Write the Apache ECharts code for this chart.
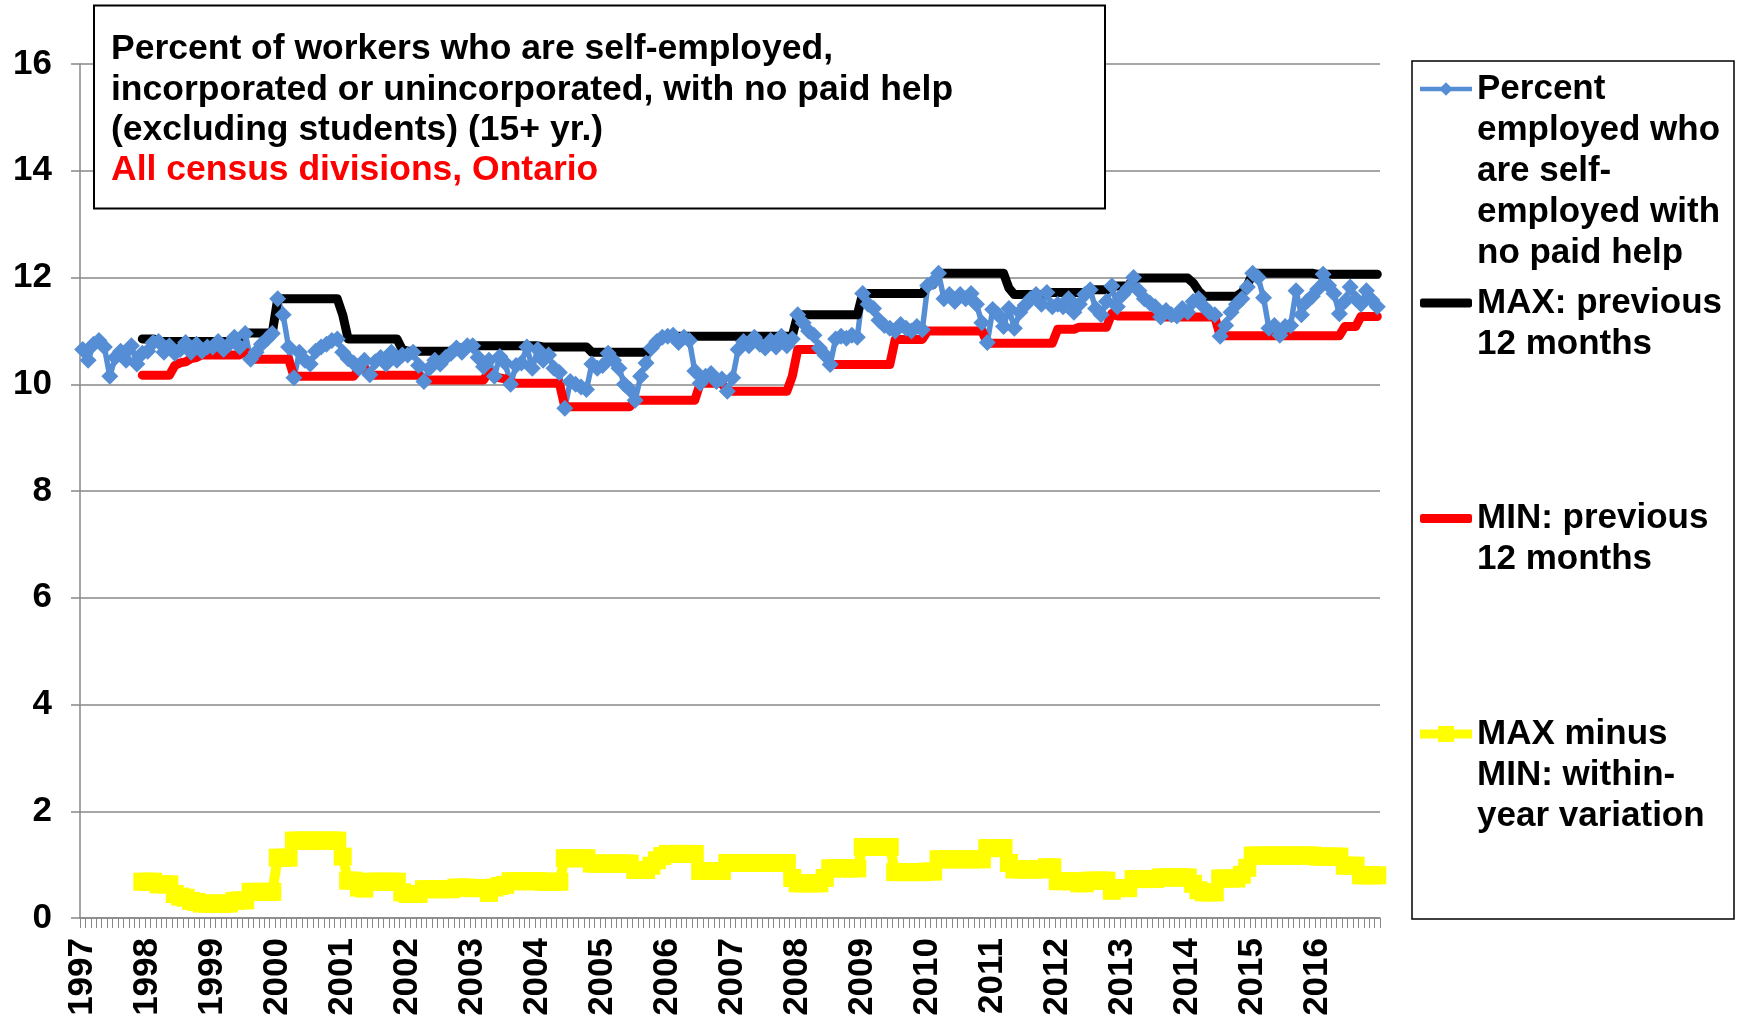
<!DOCTYPE html>
<html>
<head>
<meta charset="utf-8">
<script src="https://cdn.jsdelivr.net/npm/echarts@6/dist/echarts.min.js"></script>
<style>
  html, body { margin: 0; padding: 0; background: #fff; }
  #main { width: 1741px; height: 1021px; }
</style>
</head>
<body>
<div id="main"></div>
<script>
// monthly data, Jan 1997 - Dec 2016
var years = [1997, 1998, 1999, 2000, 2001, 2002, 2003, 2004, 2005, 2006,
             2007, 2008, 2009, 2010, 2011, 2012, 2013, 2014, 2015, 2016];
var monthNames = ['01', '02', '03', '04', '05', '06', '07', '08', '09', '10', '11', '12'];
var months = [];
years.forEach(function (y) {
  monthNames.forEach(function (m) { months.push(y + '-' + m); });
});

var pctSelfEmployed = [
  10.65, 10.45, 10.75, 10.82, 10.7, 10.15, 10.5, 10.62, 10.45, 10.72, 10.38, 10.58,
  10.62, 10.78, 10.8, 10.6, 10.72, 10.58, 10.65, 10.78, 10.6, 10.75, 10.62, 10.7,
  10.7, 10.8, 10.65, 10.75, 10.88, 10.7, 10.95, 10.47, 10.6, 10.75, 10.85, 10.95,
  11.6, 11.3, 10.7, 10.12, 10.6, 10.45, 10.38, 10.62, 10.7, 10.75, 10.82, 10.85,
  10.6, 10.48, 10.4, 10.3, 10.45, 10.18, 10.42, 10.5, 10.38, 10.6, 10.45, 10.55,
  10.55, 10.6, 10.35, 10.05, 10.3, 10.45, 10.38, 10.5, 10.58, 10.68, 10.6, 10.72,
  10.72, 10.5, 10.33, 10.45, 10.15, 10.52, 10.4, 10.0, 10.35, 10.4, 10.7, 10.3,
  10.65, 10.45, 10.55, 10.3, 10.22, 9.55, 10.05, 10.0, 9.95, 9.9, 10.38, 10.3,
  10.35, 10.58, 10.45, 10.3, 10.0, 9.9, 9.7, 10.15, 10.4, 10.68, 10.8, 10.88,
  10.9, 10.92, 10.78, 10.88, 10.82, 10.25, 10.02, 10.15, 10.2, 10.05, 10.1, 9.87,
  10.12, 10.65, 10.8, 10.72, 10.88, 10.75, 10.68, 10.82, 10.7, 10.9, 10.72, 10.85,
  11.3, 11.15, 11.0, 10.92, 10.68, 10.55, 10.37, 10.85, 10.9, 10.86, 10.92, 10.88,
  11.7, 11.5, 11.42, 11.2, 11.1, 11.05, 11.0, 11.12, 11.05, 11.0, 11.08, 11.02,
  11.85, 11.92, 12.08, 11.6, 11.68, 11.55, 11.68, 11.6, 11.7, 11.5, 11.15, 10.78,
  11.4, 11.3, 11.08, 11.42, 11.05, 11.35, 11.48, 11.6, 11.68, 11.5, 11.72, 11.45,
  11.5, 11.45, 11.6, 11.35, 11.5, 11.68, 11.77, 11.42, 11.3, 11.55, 11.84, 11.45,
  11.68, 11.8, 12.0, 11.75, 11.6, 11.52, 11.45, 11.26, 11.38, 11.3, 11.28, 11.42,
  11.35, 11.55, 11.6, 11.45, 11.35, 11.3, 10.9, 11.1, 11.35, 11.5, 11.6, 11.82,
  12.08, 12.0, 11.62, 11.05, 11.1, 10.92, 11.08, 11.1, 11.75, 11.3, 11.55, 11.65,
  11.78, 12.06, 11.85, 11.7, 11.32, 11.55, 11.82, 11.6, 11.5, 11.75, 11.58, 11.45
];

var maxPrev12 = [
  null, null, null, null, null, null, null, null, null, null, null, 10.85,
  10.85, 10.85, 10.8, 10.8, 10.8, 10.8, 10.8, 10.8, 10.8, 10.8, 10.8, 10.8,
  10.8, 10.8, 10.8, 10.8, 10.88, 10.88, 10.96, 10.96, 10.96, 10.96, 10.96, 10.96,
  11.6, 11.6, 11.6, 11.6, 11.6, 11.6, 11.6, 11.6, 11.6, 11.6, 11.6, 11.6,
  11.3, 10.85, 10.85, 10.85, 10.85, 10.85, 10.85, 10.85, 10.85, 10.85, 10.85, 10.65,
  10.62, 10.62, 10.62, 10.62, 10.62, 10.62, 10.62, 10.62, 10.62, 10.68, 10.68, 10.68,
  10.72, 10.72, 10.72, 10.72, 10.72, 10.72, 10.72, 10.72, 10.72, 10.72, 10.72, 10.72,
  10.72, 10.7, 10.7, 10.7, 10.7, 10.7, 10.7, 10.7, 10.7, 10.7, 10.6, 10.6,
  10.6, 10.6, 10.6, 10.6, 10.6, 10.6, 10.6, 10.6, 10.6, 10.68, 10.78, 10.86,
  10.9, 10.9, 10.9, 10.9, 10.9, 10.9, 10.9, 10.9, 10.9, 10.9, 10.9, 10.9,
  10.9, 10.9, 10.9, 10.9, 10.9, 10.9, 10.9, 10.9, 10.9, 10.9, 10.9, 10.9,
  11.3, 11.3, 11.3, 11.3, 11.3, 11.3, 11.3, 11.3, 11.3, 11.3, 11.3, 11.3,
  11.7, 11.7, 11.7, 11.7, 11.7, 11.7, 11.7, 11.7, 11.7, 11.7, 11.7, 11.7,
  11.87, 11.87, 12.08, 12.08, 12.08, 12.08, 12.08, 12.08, 12.08, 12.08, 12.08, 12.08,
  12.08, 12.08, 12.08, 11.8, 11.68, 11.68, 11.68, 11.68, 11.68, 11.68, 11.72, 11.72,
  11.72, 11.72, 11.72, 11.72, 11.72, 11.72, 11.77, 11.77, 11.77, 11.77, 11.84, 11.84,
  11.84, 11.84, 11.99, 11.99, 11.99, 11.99, 11.99, 11.99, 11.99, 11.99, 11.99, 11.99,
  11.99, 11.9, 11.75, 11.65, 11.65, 11.65, 11.65, 11.65, 11.65, 11.65, 11.72, 11.85,
  12.08, 12.08, 12.08, 12.08, 12.08, 12.08, 12.08, 12.08, 12.08, 12.08, 12.08, 12.08,
  12.06, 12.06, 12.06, 12.06, 12.06, 12.06, 12.06, 12.06, 12.06, 12.06, 12.06, 12.06
];

var minPrev12 = [
  null, null, null, null, null, null, null, null, null, null, null, 10.17,
  10.17, 10.17, 10.17, 10.17, 10.17, 10.35, 10.4, 10.42, 10.48, 10.5, 10.55, 10.55,
  10.55, 10.55, 10.55, 10.55, 10.55, 10.55, 10.62, 10.47, 10.47, 10.47, 10.47, 10.47,
  10.47, 10.47, 10.47, 10.15, 10.15, 10.15, 10.15, 10.15, 10.15, 10.15, 10.15, 10.15,
  10.15, 10.15, 10.15, 10.28, 10.3, 10.17, 10.17, 10.17, 10.17, 10.17, 10.17, 10.17,
  10.17, 10.17, 10.17, 10.08, 10.08, 10.08, 10.08, 10.08, 10.08, 10.08, 10.08, 10.08,
  10.08, 10.08, 10.08, 10.24, 10.15, 10.12, 10.1, 10.02, 10.02, 10.02, 10.02, 10.02,
  10.02, 10.02, 10.02, 10.02, 10.02, 9.58, 9.58, 9.58, 9.58, 9.58, 9.58, 9.58,
  9.58, 9.58, 9.58, 9.58, 9.58, 9.58, 9.7, 9.7, 9.7, 9.7, 9.7, 9.7,
  9.7, 9.7, 9.7, 9.7, 9.7, 9.7, 10.02, 10.02, 10.02, 10.02, 10.02, 9.87,
  9.87, 9.87, 9.87, 9.87, 9.87, 9.87, 9.87, 9.87, 9.87, 9.87, 9.87, 10.15,
  10.65, 10.65, 10.65, 10.65, 10.65, 10.55, 10.37, 10.37, 10.37, 10.37, 10.37, 10.37,
  10.37, 10.37, 10.37, 10.37, 10.37, 10.37, 10.84, 10.84, 10.84, 10.84, 10.84, 10.84,
  11.0, 11.0, 11.0, 11.0, 11.0, 11.0, 11.0, 11.0, 11.0, 11.0, 11.0, 10.77,
  10.77, 10.77, 10.77, 10.77, 10.77, 10.77, 10.77, 10.77, 10.77, 10.77, 10.77, 10.77,
  11.03, 11.03, 11.03, 11.03, 11.07, 11.07, 11.07, 11.07, 11.07, 11.07, 11.33, 11.28,
  11.28, 11.28, 11.28, 11.28, 11.28, 11.28, 11.28, 11.26, 11.26, 11.26, 11.26, 11.26,
  11.26, 11.26, 11.26, 11.26, 11.26, 11.26, 10.91, 10.91, 10.91, 10.91, 10.91, 10.91,
  10.91, 10.91, 10.91, 10.91, 10.91, 10.91, 10.91, 10.91, 10.91, 10.91, 10.91, 10.91,
  10.91, 10.91, 10.91, 10.91, 10.91, 11.08, 11.08, 11.08, 11.27, 11.27, 11.27, 11.27
];

var maxMinusMin = [
  null, null, null, null, null, null, null, null, null, null, null, 0.68,
  0.68, 0.68, 0.63, 0.63, 0.63, 0.45, 0.4, 0.38, 0.32, 0.3, 0.27, 0.27,
  0.27, 0.27, 0.27, 0.27, 0.32, 0.33, 0.33, 0.49, 0.49, 0.49, 0.49, 0.49,
  1.13, 1.13, 1.13, 1.45, 1.45, 1.45, 1.45, 1.45, 1.45, 1.45, 1.45, 1.45,
  1.15, 0.7, 0.7, 0.57, 0.55, 0.68, 0.68, 0.68, 0.68, 0.68, 0.68, 0.48,
  0.45, 0.45, 0.45, 0.54, 0.54, 0.54, 0.54, 0.54, 0.54, 0.57, 0.57, 0.57,
  0.56, 0.56, 0.56, 0.47, 0.57, 0.6, 0.62, 0.69, 0.69, 0.69, 0.69, 0.69,
  0.69, 0.68, 0.68, 0.68, 0.68, 1.12, 1.12, 1.12, 1.12, 1.12, 1.02, 1.02,
  1.02, 1.02, 1.02, 1.02, 1.02, 1.02, 0.9, 0.9, 0.9, 0.98, 1.08, 1.16,
  1.2, 1.2, 1.2, 1.2, 1.2, 1.2, 0.88, 0.88, 0.88, 0.88, 0.88, 1.03,
  1.03, 1.03, 1.03, 1.03, 1.03, 1.03, 1.03, 1.03, 1.03, 1.03, 1.03, 0.75,
  0.65, 0.65, 0.65, 0.65, 0.65, 0.75, 0.93, 0.93, 0.93, 0.93, 0.93, 0.93,
  1.33, 1.33, 1.33, 1.33, 1.33, 1.33, 0.86, 0.86, 0.86, 0.86, 0.86, 0.86,
  0.87, 0.87, 1.1, 1.1, 1.1, 1.1, 1.1, 1.1, 1.1, 1.1, 1.1, 1.31,
  1.31, 1.31, 1.31, 1.03, 0.91, 0.91, 0.91, 0.91, 0.91, 0.91, 0.95, 0.95,
  0.69, 0.69, 0.69, 0.69, 0.65, 0.65, 0.7, 0.7, 0.7, 0.7, 0.51, 0.56,
  0.56, 0.56, 0.73, 0.73, 0.73, 0.73, 0.73, 0.76, 0.76, 0.76, 0.76, 0.76,
  0.76, 0.64, 0.52, 0.48, 0.48, 0.48, 0.74, 0.74, 0.74, 0.74, 0.81, 0.94,
  1.17, 1.17, 1.17, 1.17, 1.17, 1.17, 1.17, 1.17, 1.17, 1.17, 1.17, 1.17,
  1.15, 1.15, 1.15, 1.15, 1.15, 0.98, 0.98, 0.98, 0.8, 0.8, 0.8, 0.8
];

var FONT = "'Liberation Sans', Arial, sans-serif";
var LH = 41;

var names = {
  pct: 'Percent employed who are self-employed with no paid help',
  max: 'MAX: previous 12 months',
  min: 'MIN: previous 12 months',
  diff: 'MAX minus MIN: within-year variation'
};
var legendLines = {
  pct: ['Percent', 'employed who', 'are self-', 'employed with', 'no paid help'],
  max: ['MAX: previous', '12 months'],
  min: ['MIN: previous', '12 months'],
  diff: ['MAX minus', 'MIN: within-', 'year variation']
};

// one legend per entry so the icon sits on the first text line
function legendAt(key, iconY, itemHeight, lineWidth, icon) {
  var lines = legendLines[key];
  var pad = [];
  for (var i = 1; i < lines.length; i++) pad.push('');
  var text = pad.concat(lines).join('\n');
  var item = { name: names[key] };
  if (icon) item.icon = icon;
  return {
    data: [item],
    orient: 'vertical',
    // stroked line icons stick out by half their width
    left: icon ? 1420 : 1420 - lineWidth / 2,
    top: iconY - (2 * lines.length - 1) * LH / 2,
    padding: 0,
    itemWidth: 52,
    itemHeight: itemHeight,
    selectedMode: false,
    lineStyle: { width: lineWidth },
    formatter: function () { return text; },
    textStyle: { fontSize: 35, fontWeight: 'bold', fontFamily: FONT, color: '#000', lineHeight: LH }
  };
}

var chart = echarts.init(document.getElementById('main'));

var option = {
  animation: false,
  backgroundColor: '#fff',
  title: {
    text: 'Percent of workers who are self-employed,\nincorporated or unincorporated, with no paid help\n(excluding students) (15+ yr.)',
    subtext: 'All census divisions, Ontario',
    left: 111,
    top: 29.5,
    padding: 0,
    itemGap: 0,
    z: 10,
    textStyle: { fontSize: 35.5, fontWeight: 'bold', fontFamily: FONT, color: '#000', lineHeight: 40.3 },
    subtextStyle: { fontSize: 35.5, fontWeight: 'bold', fontFamily: FONT, color: '#ff0000', lineHeight: 40.3 }
  },
  graphic: [
    { type: 'rect', z: 5, shape: { x: 94, y: 5.5, width: 1011, height: 203 },
      style: { fill: '#fff', stroke: '#000', lineWidth: 2 } },
    { type: 'rect', z: 5, shape: { x: 1412, y: 61, width: 322, height: 858 },
      style: { fill: 'none', stroke: '#000', lineWidth: 1.5 } }
  ],
  legend: [
    legendAt('pct', 89, 17, 4.5),
    legendAt('max', 303, 9, 9, 'roundRect'),
    legendAt('min', 518.5, 9, 9, 'roundRect'),
    legendAt('diff', 734, 20, 9)
  ],
  grid: { left: 80, right: 361, top: 64, bottom: 103, containLabel: false, outerBoundsMode: 'none' },
  xAxis: {
    type: 'category',
    data: months,
    boundaryGap: true,
    axisLine: { show: true, lineStyle: { color: '#888', width: 1.5 } },
    axisTick: { show: true, interval: 0, length: 10, lineStyle: { color: '#888', width: 1 } },
    axisLabel: {
      interval: 11, rotate: 90, margin: 20,
      fontSize: 35, fontWeight: 'bold', fontFamily: FONT, color: '#000',
      formatter: function (v) { return v.slice(0, 4); }
    },
    splitLine: { show: false }
  },
  yAxis: {
    type: 'value',
    min: 0, max: 16, interval: 2,
    axisLine: { show: true, lineStyle: { color: '#888', width: 1.5 } },
    axisTick: { show: true, length: 9, lineStyle: { color: '#888', width: 1.5 } },
    axisLabel: { margin: 28, fontSize: 35, fontWeight: 'bold', fontFamily: FONT, color: '#000' },
    splitLine: { show: true, lineStyle: { color: '#888', width: 1.5 } }
  },
  series: [
    {
      name: names.pct, type: 'line', data: pctSelfEmployed,
      symbol: 'diamond', symbolSize: 17, showAllSymbol: true,
      lineStyle: { color: '#558ed5', width: 5.5 },
      itemStyle: { color: '#558ed5' }
    },
    {
      name: names.max, type: 'line', data: maxPrev12,
      symbol: 'none',
      lineStyle: { color: '#000', width: 9, cap: 'round', join: 'round' },
      itemStyle: { color: '#000' }
    },
    {
      name: names.min, type: 'line', data: minPrev12,
      symbol: 'none',
      lineStyle: { color: '#ff0000', width: 9, cap: 'round', join: 'round' },
      itemStyle: { color: '#ff0000' }
    },
    {
      name: names.diff, type: 'line', data: maxMinusMin,
      symbol: 'rect', symbolSize: 18, showAllSymbol: true,
      lineStyle: { color: '#ffff00', width: 10 },
      itemStyle: { color: '#ffff00' }
    }
  ]
};

chart.setOption(option);
</script>
</body>
</html>
